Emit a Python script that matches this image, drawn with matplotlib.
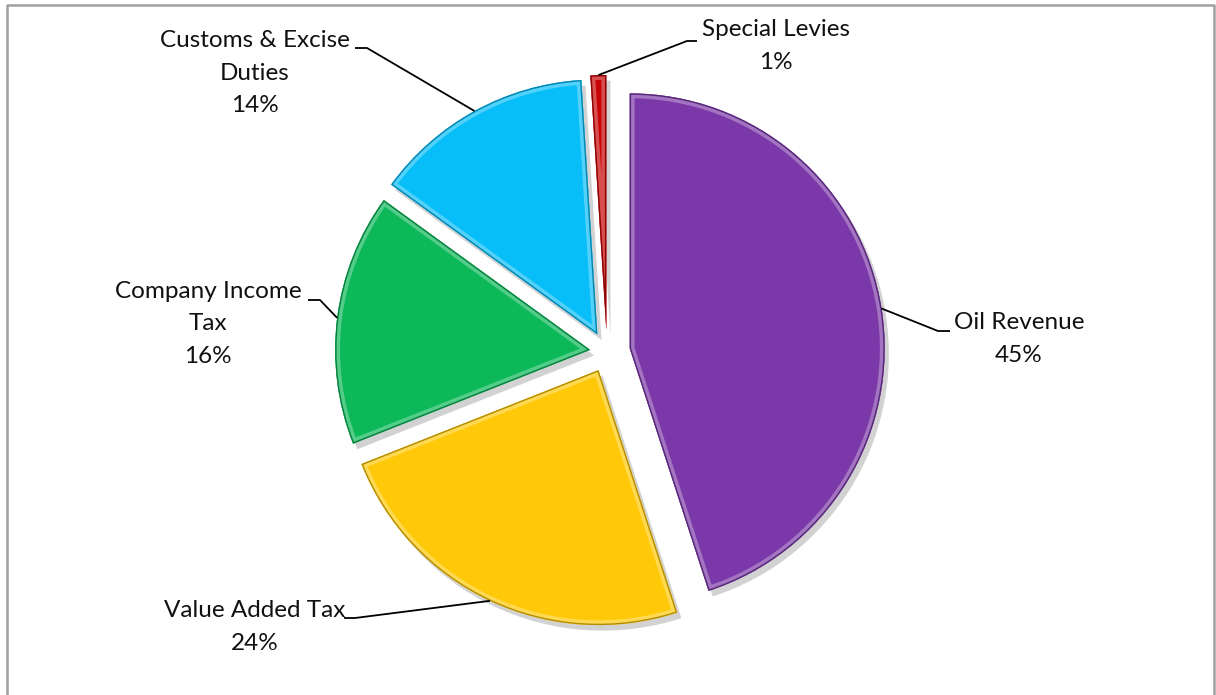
import matplotlib
matplotlib.use('Agg')
import matplotlib.pyplot as plt
import matplotlib.patheffects as pe
from matplotlib.patches import Wedge
import matplotlib.colors as mcolors
import numpy as np

# data
categories = ['Oil Revenue', 'Value Added Tax', 'Company Income\nTax',
              'Customs & Excise\nDuties', 'Special Levies']
shares = [45, 24, 16, 14, 1]
colors = ['#7B38A8', '#FFC808', '#0CB858', '#08BEF8', '#C80404']

W, H = 1216, 695
R = 255
# explode offsets in pixels
explode = [23, 20, 17, 20, 22]
plt.rcParams['font.family'] = ['Lato', 'DejaVu Sans']

fig = plt.figure(figsize=(W / 100, H / 100), dpi=100)
ax = fig.add_axes([0, 0, 1, 1])


def px(x, y):
    # pixel position (from top-left) -> data coords
    return x, H - y


def shade(c, f):
    r = np.array(mcolors.to_rgb(c))
    if f > 0:
        r = r + (1 - r) * f
    else:
        r = r * (1 + f)
    return tuple(np.clip(r, 0, 1))


wedges, _ = ax.pie(shares, explode=explode, colors=colors, startangle=90,
                   counterclock=False, radius=R, center=px(607, 352),
                   frame=True, wedgeprops=dict(linewidth=0))
ax.set_xlim(0, W)
ax.set_ylim(0, H)
ax.axis('off')

# fake bevel + drop shadow
for w, c in zip(wedges, colors):
    w.set_path_effects([pe.SimplePatchShadow(offset=(3, -4), shadow_rgbFace='#808080', alpha=0.35),
                        pe.Normal()])
    rim = Wedge(w.center, w.r, w.theta1, w.theta2, facecolor='none',
                edgecolor=shade(c, 0.3), linewidth=7, zorder=w.get_zorder() + 0.1)
    ax.add_patch(rim)
    rim.set_clip_path(w)
    edge = Wedge(w.center, w.r, w.theta1, w.theta2, facecolor='none',
                 edgecolor=shade(c, -0.3), linewidth=2, zorder=w.get_zorder() + 0.2)
    ax.add_patch(edge)
    edge.set_clip_path(w)

# labels: text centre, knee of leader, end of leader (pixels)
text_pos = [(1019, 339), (255, 627), (208, 324), (255, 73), (776, 46)]
knees = [(938, 331), (355, 618), (320, 300), (367, 48), (687, 41)]
ends = [(950, 331), (344, 618), (308, 300), (355, 48), (697, 41)]

for w, name, s, tp, kn, en in zip(wedges, categories, shares, text_pos, knees, ends):
    mid = np.deg2rad((w.theta1 + w.theta2) / 2)
    ax_x = w.center[0] + w.r * np.cos(mid)
    ax_y = w.center[1] + w.r * np.sin(mid)
    kx, ky = px(*kn)
    ex, ey = px(*en)
    ax.plot([ax_x, kx, ex], [ax_y, ky, ey], color='black', lw=1.3, zorder=5,
            solid_capstyle='butt')
    ax.text(*px(*tp), f'{name}\n{s}%', ha='center', va='center', fontsize=17.5,
            linespacing=1.65, color='#111111', zorder=6)

# frame of the chart area
ax.plot([7, 7, 1214, 1214], [0, H - 5, H - 5, 0], color='#A0A0A0', lw=1.8, zorder=1)

# cut-off title brackets
ax.text(*px(553, -14), '(', ha='center', va='center', fontsize=20, color='#2F5597')
ax.text(*px(847, -14), ')', ha='center', va='center', fontsize=20, color='#2F5597')

fig.savefig('out.png', dpi=100)
